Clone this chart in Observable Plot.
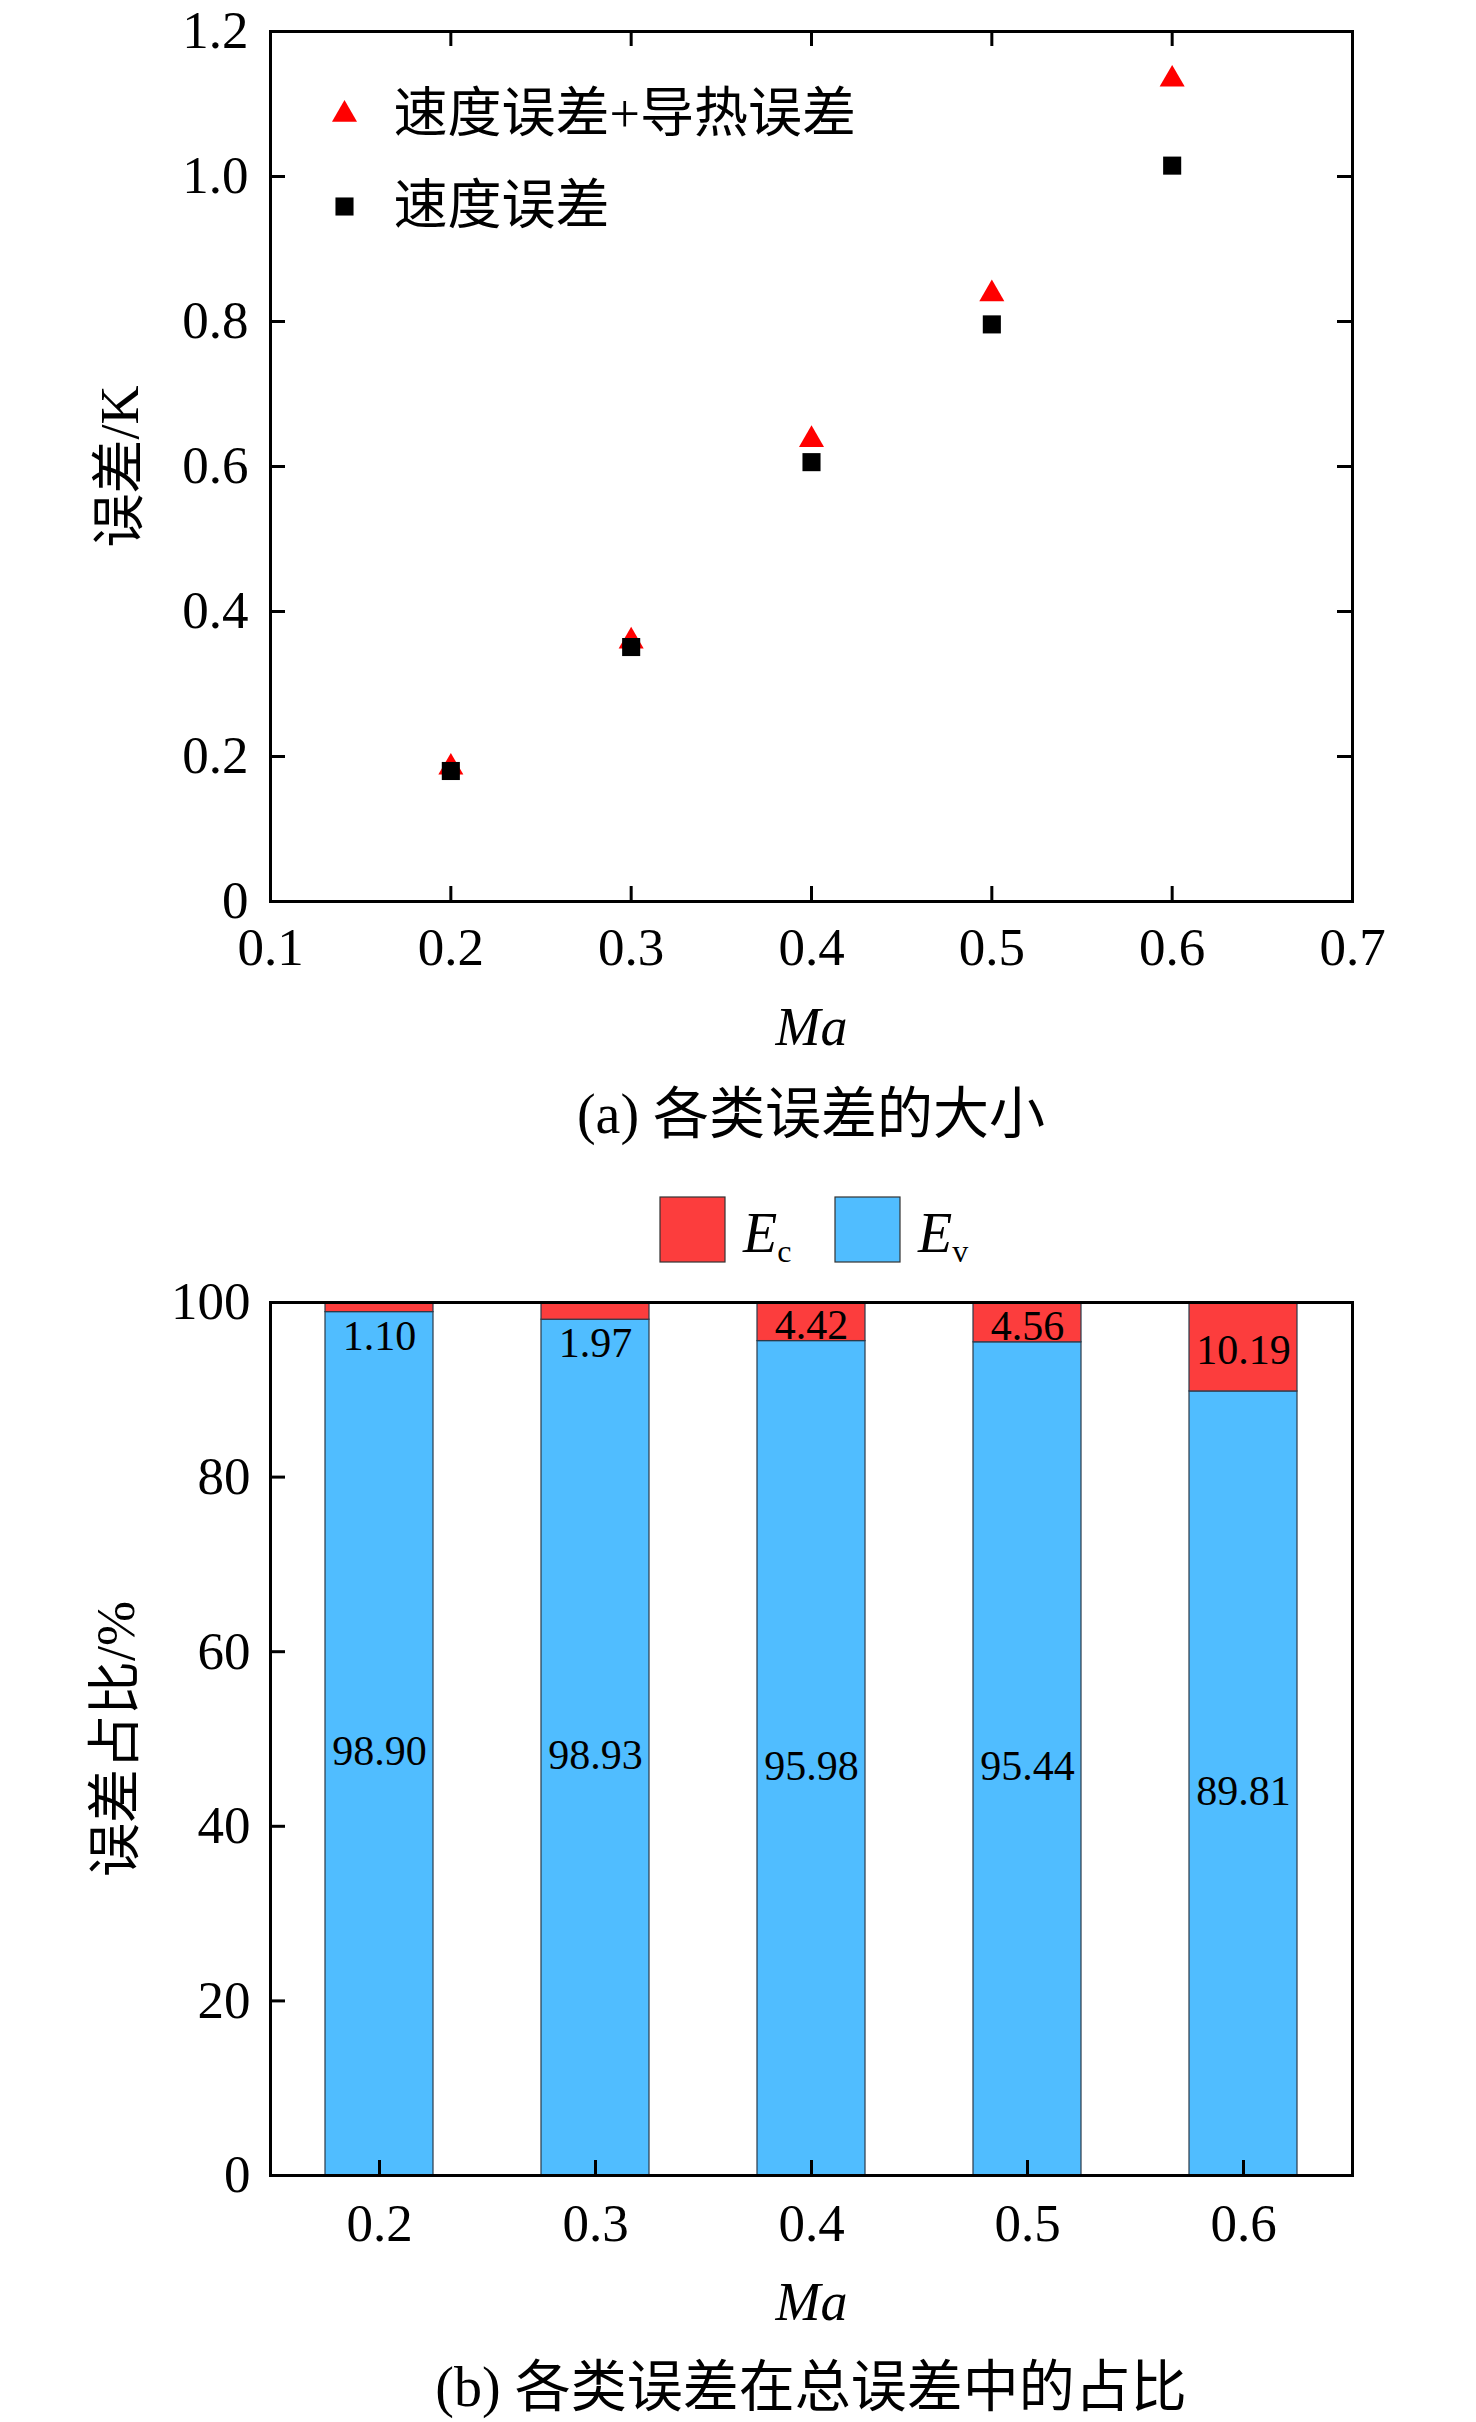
<!DOCTYPE html>
<html>
<head>
<meta charset="utf-8">
<script src="https://cdn.jsdelivr.net/npm/d3@7"></script>
<script src="https://cdn.jsdelivr.net/npm/@observablehq/plot@0.6"></script>
<style>
  html, body { margin: 0; padding: 0; background: #fff; }
  #page { position: relative; width: 1476px; height: 2422px; overflow: hidden;
          font-family: "Liberation Serif", "Noto Sans CJK SC", serif; color: #000; }
  .abs { position: absolute; }
  .caption { position: absolute; left: 270px; width: 1082px; text-align: center;
             font-size: 56px; line-height: 56px; white-space: nowrap; }
</style>
</head>
<body>
<div id="page">
  <div id="chartA" class="abs" style="left:0;top:0;"></div>
  <div class="caption" style="top:1086px;">(a) 各类误差的大小</div>
  <svg class="abs" style="left:603px;top:1180px;" width="460" height="100" id="legendB"></svg>
  <div id="chartB" class="abs" style="left:0;top:1270px;"></div>
  <div class="caption" style="top:2359px;">(b) 各类误差在总误差中的占比</div>
</div>
<script>
// ---------- data: (a) error magnitude ----------
const machA = [0.2, 0.3, 0.4, 0.5, 0.6];
const totalErr = [0.185, 0.359, 0.637, 0.838, 1.134];   // 速度误差+导热误差
const velErr   = [0.180, 0.351, 0.606, 0.796, 1.015];   // 速度误差
const xTicksA = [0.1, 0.2, 0.3, 0.4, 0.5, 0.6, 0.7];
const yTicksA = [0, 0.2, 0.4, 0.6, 0.8, 1.0, 1.2];
const xInnerA = [0.2, 0.3, 0.4, 0.5, 0.6];
const yInnerA = [0.2, 0.4, 0.6, 0.8, 1.0];
const legendA = ["速度误差+导热误差", "速度误差"];

// ---------- data: (b) share of errors ----------
const machB = ["0.2", "0.3", "0.4", "0.5", "0.6"];
const ecShare = [1.10, 1.97, 4.42, 4.56, 10.19];
const evShare = [98.90, 98.03, 95.58, 95.44, 89.81];
const ecLabels = ["1.10", "1.97", "4.42", "4.56", "10.19"];
const evLabels = ["98.90", "98.93", "95.98", "95.44", "89.81"];
const yTicksB = [0, 20, 40, 60, 80, 100];
const yInnerB = [20, 40, 60, 80];

const FONT = "'Liberation Serif', 'Noto Sans CJK SC', serif";
const RED = "#FC3D3D", BLUE = "#50BDFF";

// ----- chart (a) -----
const W = 1476, mL = 270, mR = 124;
const plotW = W - mL - mR;
const mTA = 31, plotHA = 870, mBA = 170;
const rowsA = machA.map((m, i) => ({ma: m, total: totalErr[i], vel: velErr[i]}));

const chartA = Plot.plot({
  width: W, height: mTA + plotHA + mBA,
  marginLeft: mL, marginRight: mR, marginTop: mTA, marginBottom: mBA,
  style: {fontFamily: FONT, fontSize: "53px", color: "#000", background: "transparent", overflow: "visible"},
  x: {domain: [0.1, 0.7]},
  y: {domain: [0, 1.2]},
  marks: [
    Plot.axisX(xTicksA, {tickSize: 0, tickPadding: 26, tickFormat: d => d.toFixed(1), label: null, fontSize: 53}),
    Plot.axisY(yTicksA, {tickSize: 0, tickPadding: 22, tickFormat: d => d === 0 ? "0" : d.toFixed(1), label: null, fontSize: 53}),
    Plot.tickX(xInnerA, {x: d => d, insetTop: plotHA - 15, stroke: "#000", strokeWidth: 3}),
    Plot.tickX(xInnerA, {x: d => d, insetBottom: plotHA - 15, stroke: "#000", strokeWidth: 3}),
    Plot.tickY(yInnerA, {y: d => d, insetRight: plotW - 15, stroke: "#000", strokeWidth: 3}),
    Plot.tickY(yInnerA, {y: d => d, insetLeft: plotW - 15, stroke: "#000", strokeWidth: 3}),
    Plot.frame({stroke: "#000", strokeWidth: 3}),
    Plot.dot(rowsA, {x: "ma", y: "total", symbol: "triangle", fill: "#FF0000", r: 9.3}),
    Plot.dot(rowsA, {x: "ma", y: "vel", symbol: "square", fill: "#000", r: 10.2}),
    // legend
    Plot.dot([legendA[0]], {frameAnchor: "top-left", dx: 74, dy: 83, symbol: "triangle", fill: "#FF0000", r: 9.3}),
    Plot.dot([legendA[1]], {frameAnchor: "top-left", dx: 74, dy: 175, symbol: "square", fill: "#000", r: 10.2}),
    Plot.text([legendA[0]], {text: d => d, frameAnchor: "top-left", dx: 123, dy: 83, textAnchor: "start", lineAnchor: "middle", fontSize: 54}),
    Plot.text([legendA[1]], {text: d => d, frameAnchor: "top-left", dx: 123, dy: 175, textAnchor: "start", lineAnchor: "middle", fontSize: 54}),
    // axis titles
    Plot.text(["Ma"], {text: d => d, frameAnchor: "bottom", dy: 126, textAnchor: "middle", lineAnchor: "middle", fontStyle: "italic", fontSize: 54}),
    Plot.text(["误差/K"], {text: d => d, frameAnchor: "left", dx: -150, rotate: -90, textAnchor: "middle", lineAnchor: "middle", fontSize: 54})
  ]
});
document.getElementById("chartA").appendChild(chartA);

// ----- chart (b) -----
const mTB = 32, plotHB = 873, mBB = 170;
const rowsB = machB.map((m, i) => ({ma: m, ec: ecShare[i], ev: evShare[i], ecLab: ecLabels[i], evLab: evLabels[i]}));
const stackRows = [];
machB.forEach((m, i) => {
  stackRows.push({ma: m, type: "Ev", value: evShare[i]});
  stackRows.push({ma: m, type: "Ec", value: ecShare[i]});
});

const chartB = Plot.plot({
  width: W, height: mTB + plotHB + mBB,
  marginLeft: mL, marginRight: mR, marginTop: mTB, marginBottom: mBB,
  style: {fontFamily: FONT, fontSize: "53px", color: "#000", background: "transparent", overflow: "visible"},
  x: {domain: machB, type: "band", paddingInner: 0.5, paddingOuter: 0.25},
  y: {domain: [0, 100]},
  color: {domain: ["Ec", "Ev"], range: [RED, BLUE]},
  marks: [
    Plot.barY(stackRows, Plot.stackY({x: "ma", y: "value", fill: "type", z: "type", order: ["Ev", "Ec"],
      stroke: "#2b3a4a", strokeWidth: 1.2})),
    Plot.axisX(machB, {tickSize: 0, tickPadding: 28, label: null, fontSize: 53}),
    Plot.axisY(yTicksB, {tickSize: 0, tickPadding: 20, label: null, fontSize: 53}),
    Plot.tickX(machB, {x: d => d, insetTop: plotHB - 15, stroke: "#000", strokeWidth: 3}),
    Plot.tickY(yInnerB, {y: d => d, insetRight: plotW - 15, stroke: "#000", strokeWidth: 3}),
    Plot.frame({stroke: "#000", strokeWidth: 3}),
    // value labels
    Plot.text(rowsB.filter(d => d.ec < 3), {x: "ma", y: "ev", text: "ecLab", dy: 24, fontSize: 42}),
    Plot.text(rowsB.filter(d => d.ec >= 3), {x: "ma", y: d => d.ev + d.ec / 2, text: "ecLab", dy: 4, fontSize: 42}),
    Plot.text(rowsB, {x: "ma", y: d => d.ev / 2, text: "evLab", dy: 8, fontSize: 42}),
    // axis titles
    Plot.text(["Ma"], {text: d => d, frameAnchor: "bottom", dy: 127, textAnchor: "middle", lineAnchor: "middle", fontStyle: "italic", fontSize: 54}),
    Plot.text(["误差占比/%"], {text: d => d, frameAnchor: "left", dx: -154, rotate: -90, textAnchor: "middle", lineAnchor: "middle", fontSize: 54})
  ]
});
document.getElementById("chartB").appendChild(chartB);

// ----- legend (b) -----
const legendItems = [{key: "c", color: RED, x: 57}, {key: "v", color: BLUE, x: 232}];
const lg = d3.select("#legendB");
legendItems.forEach(it => {
  lg.append("rect").attr("x", it.x).attr("y", 17).attr("width", 65).attr("height", 65)
    .attr("fill", it.color).attr("stroke", "#333").attr("stroke-width", 1.2);
  const t = lg.append("text").attr("x", it.x + 83).attr("y", 72)
    .attr("font-family", FONT).attr("font-size", 56);
  t.append("tspan").attr("font-style", "italic").text("E");
  t.append("tspan").attr("font-size", 32).attr("dy", 10).text(it.key);
});
</script>
</body>
</html>
